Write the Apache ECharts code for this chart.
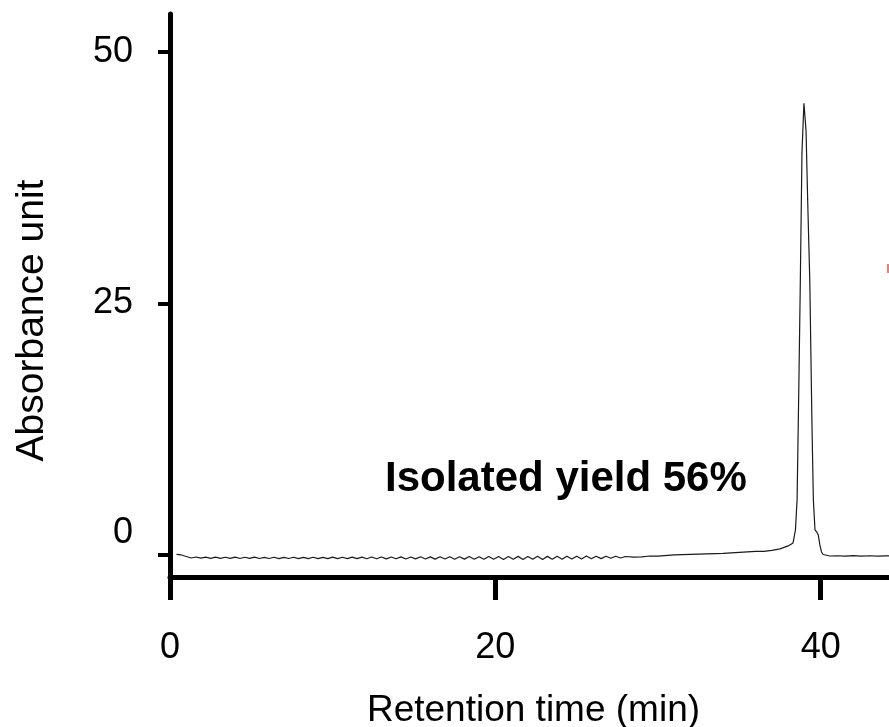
<!DOCTYPE html>
<html>
<head>
<meta charset="utf-8">
<script src="https://cdn.jsdelivr.net/npm/echarts@6/dist/echarts.min.js"></script>
<style>
html,body{margin:0;padding:0;background:#fff;}
#chart{width:889px;height:727px;}
</style>
</head>
<body>
<div id="chart"></div>
<script>
// Retention time (min)
const times = [
  0.4,0.7,1.0,1.3,1.6,1.9,2.2,2.5,2.8,3.1,3.4,3.7,4.0,4.3,4.6,4.9,5.2,5.5,5.8,6.1,
  6.4,6.7,7.0,7.3,7.6,7.9,8.2,8.5,8.8,9.1,9.4,9.7,10.0,10.3,10.6,10.9,11.2,11.5,11.8,12.1,
  12.4,12.7,13.0,13.3,13.6,13.9,14.2,14.5,14.8,15.1,15.4,15.7,16.0,16.3,16.6,16.9,17.2,17.5,17.8,18.1,
  18.4,18.7,19.0,19.3,19.6,19.9,20.2,20.5,20.8,21.1,21.4,21.7,22.0,22.3,22.6,22.9,23.2,23.5,23.8,24.1,
  24.4,24.7,25.0,25.3,25.6,25.9,26.2,26.5,26.8,27.1,27.4,27.7,28.0,28.5,29.0,29.5,30.0,31.0,32.0,33.0,
  34.0,35.0,36.0,36.5,37.0,37.5,38.0,38.3,38.45,38.55,38.65,38.75,38.85,38.97,39.1,39.2,39.33,39.46,39.55,39.65,
  39.75,39.85,39.95,40.05,40.15,40.3,40.55,41.0,41.5,42.0,42.5,43.0,43.5,44.0,44.3
];
// Absorbance unit
const absorbance = [
  0.05,0.0,-0.15,-0.3,-0.2,-0.32,-0.22,-0.33,-0.22,-0.34,-0.23,-0.34,-0.22,-0.35,-0.23,-0.34,-0.22,-0.35,-0.24,-0.35,
  -0.23,-0.36,-0.24,-0.35,-0.23,-0.36,-0.24,-0.36,-0.23,-0.37,-0.24,-0.36,-0.22,-0.37,-0.23,-0.36,-0.22,-0.37,-0.22,-0.38,
  -0.2,-0.38,-0.2,-0.39,-0.2,-0.38,-0.19,-0.4,-0.2,-0.39,-0.18,-0.4,-0.19,-0.41,-0.18,-0.4,-0.17,-0.42,-0.18,-0.41,
  -0.16,-0.42,-0.17,-0.43,-0.16,-0.42,-0.15,-0.44,-0.16,-0.43,-0.14,-0.44,-0.15,-0.43,-0.13,-0.44,-0.14,-0.42,-0.13,-0.43,
  -0.12,-0.41,-0.12,-0.4,-0.11,-0.38,-0.12,-0.36,-0.12,-0.33,-0.13,-0.3,-0.15,-0.22,-0.18,-0.1,-0.12,0.0,0.05,0.1,
  0.15,0.25,0.35,0.35,0.45,0.6,0.9,1.2,2.5,5.5,16.0,27.3,40.0,44.9,42.2,35.3,27.3,13.4,5.5,2.5,
  2.3,2.0,1.0,0.3,0.05,0.0,-0.1,-0.08,-0.12,-0.07,-0.12,-0.08,-0.12,-0.09,-0.1
];
const xTicks = [0, 20, 40];
const yTicks = [0, 25, 50];

const data = times.map((t, i) => [t, absorbance[i]]);
const chart = echarts.init(document.getElementById('chart'));
const FONT = '"Liberation Sans", Arial, sans-serif';
chart.setOption({
  animation: false,
  backgroundColor: '#ffffff',
  grid: { left: 170, right: 0, top: 14, bottom: 150, containLabel: false, outerBoundsMode: 'none' },
  xAxis: {
    type: 'value', min: 0, max: 44.2,
    name: 'Retention time (min)', nameLocation: 'middle', nameGap: 115,
    nameTextStyle: { fontFamily: FONT, fontSize: 37, color: '#000', padding: [0, 0, 0, 8] },
    axisLine: { show: true, onZero: false, lineStyle: { color: '#000', width: 5 } },
    axisTick: { show: true, inside: false, length: 23, customValues: xTicks, lineStyle: { color: '#000', width: 5 } },
    axisLabel: { customValues: xTicks, margin: 53, fontFamily: FONT, fontSize: 36, color: '#000' },
    splitLine: { show: false }
  },
  yAxis: {
    type: 'value', min: -2.19, max: 53.78,
    name: 'Absorbance unit', nameLocation: 'middle', nameGap: 118,
    nameTextStyle: { fontFamily: FONT, fontSize: 39, color: '#000', padding: [0, 50, 0, 0] },
    axisLine: { show: true, onZero: false, lineStyle: { color: '#000', width: 5 } },
    axisTick: { show: true, inside: false, length: 12, customValues: yTicks, lineStyle: { color: '#000', width: 4 } },
    axisLabel: {
      customValues: yTicks, margin: 37, fontFamily: FONT, fontSize: 36, color: '#000',
      formatter: v => (v === 0 ? '{zero|0}' : String(v)),
      rich: { zero: { fontFamily: FONT, fontSize: 36, color: '#000', padding: [0, 0, 44, 0] } }
    },
    splitLine: { show: false }
  },
  series: [{
    type: 'line', data: data, showSymbol: false, symbol: 'none', smooth: false,
    lineStyle: { color: '#1a1a1a', width: 1.2 }, z: 3
  }],
  graphic: [
    { type: 'text', left: 385, top: 458, style: { text: 'Isolated yield 56%', font: 'bold 42px "Liberation Sans", Arial, sans-serif', fill: '#000' } },
    { type: 'rect', left: 887, top: 264, shape: { width: 2, height: 9 }, style: { fill: '#f07a7a' } }
  ]
});
</script>
</body>
</html>
